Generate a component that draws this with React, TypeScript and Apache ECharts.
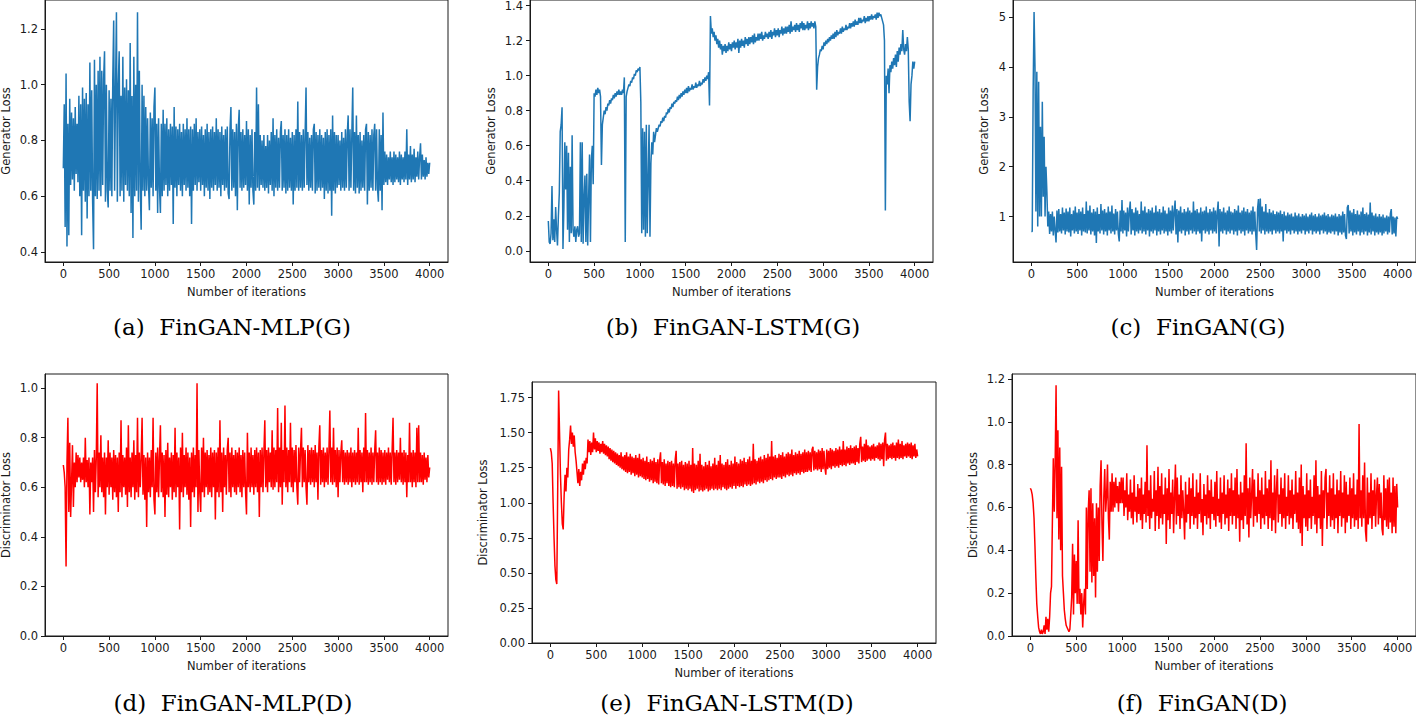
import React, { useEffect, useRef } from "react";
import * as echarts from "echarts";

// iteration spacing between consecutive recorded loss values
const STEP = 10;

// (a) FinGAN-MLP generator loss (one row = 100 iterations)
const mlpG = [
  0.70, 0.93, 0.49, 1.04, 0.42, 0.86, 0.46, 0.95, 0.64, 0.90,
  0.66, 0.88, 0.62, 0.92, 0.68, 0.86, 0.65, 0.96, 0.60, 0.93,
  0.46, 0.99, 0.62, 0.95, 0.58, 0.97, 0.52, 0.93, 0.60, 1.08,
  0.62, 0.98, 0.58, 0.41, 1.09, 0.60, 1.00, 0.59, 1.05, 0.62,
  1.10, 0.60, 1.05, 0.64, 1.02, 1.12, 0.58, 1.00, 0.62, 0.56,
  0.98, 0.62, 0.95, 0.60, 1.02, 1.23, 0.62, 0.98, 1.26, 0.58,
  1.00, 1.12, 0.60, 0.96, 0.62, 1.10, 0.58, 0.99, 0.64, 1.02,
  0.62, 0.98, 0.60, 1.15, 0.54, 0.96, 0.45, 1.10, 0.60, 1.00,
  0.62, 1.26, 0.58, 1.05, 0.64, 0.48, 1.00, 0.62, 0.96, 0.60,
  0.92, 0.62, 0.88, 0.64, 0.55, 0.90, 0.63, 0.88, 0.60, 0.92,
  0.99, 0.62, 0.86, 0.54, 0.88, 0.63, 0.54, 0.86, 0.60, 0.91,
  0.62, 0.86, 0.64, 0.88, 0.60, 0.84, 0.62, 0.86, 0.64, 0.85,
  0.50, 0.92, 0.63, 0.85, 0.60, 0.84, 0.64, 0.86, 0.62, 0.83,
  0.60, 0.86, 0.64, 0.84, 0.62, 0.88, 0.63, 0.84, 0.60, 0.85,
  0.50, 0.84, 0.62, 0.86, 0.64, 0.88, 0.62, 0.83, 0.65, 0.84,
  0.62, 0.85, 0.64, 0.82, 0.60, 0.84, 0.63, 0.86, 0.62, 0.83,
  0.59, 0.84, 0.63, 0.85, 0.62, 0.83, 0.64, 0.88, 0.62, 0.84,
  0.63, 0.83, 0.60, 0.85, 0.64, 0.82, 0.62, 0.84, 0.63, 0.85,
  0.61, 0.59, 0.84, 0.92, 0.62, 0.84, 0.63, 0.83, 0.60, 0.86,
  0.55, 0.84, 0.91, 0.63, 0.83, 0.62, 0.84, 0.63, 0.82, 0.64,
  0.87, 0.62, 0.84, 0.57, 0.82, 0.63, 0.84, 0.62, 0.57, 0.83,
  0.62, 0.99, 0.63, 0.93, 0.62, 0.82, 0.64, 0.80, 0.63, 0.82,
  0.62, 0.78, 0.63, 0.82, 0.61, 0.80, 0.64, 0.83, 0.62, 0.88,
  0.60, 0.82, 0.63, 0.84, 0.62, 0.81, 0.63, 0.83, 0.87, 0.62,
  0.82, 0.63, 0.84, 0.61, 0.82, 0.62, 0.84, 0.63, 0.81, 0.62,
  0.83, 0.57, 0.82, 0.62, 0.84, 0.63, 0.94, 0.62, 0.83, 0.63,
  0.82, 0.62, 0.84, 0.63, 0.82, 0.99, 0.64, 0.83, 0.62, 0.81,
  0.63, 0.82, 0.62, 0.84, 0.86, 0.61, 0.83, 0.62, 0.82, 0.63,
  0.84, 0.62, 0.82, 0.63, 0.81, 0.59, 0.83, 0.62, 0.84, 0.61,
  0.82, 0.62, 0.84, 0.53, 0.89, 0.62, 0.83, 0.61, 0.82, 0.63,
  0.82, 0.64, 0.80, 0.62, 0.83, 0.63, 0.81, 0.62, 0.84, 0.63,
  0.82, 0.89, 0.62, 0.84, 0.63, 0.82, 0.99, 0.62, 0.83, 0.61,
  0.89, 0.63, 0.82, 0.61, 0.83, 0.62, 0.80, 0.63, 0.82, 0.62,
  0.84, 0.86, 0.57, 0.83, 0.62, 0.82, 0.63, 0.84, 0.62, 0.82,
  0.86, 0.62, 0.84, 0.63, 0.58, 0.84, 0.62, 0.82, 0.55, 0.90,
  0.64, 0.76, 0.65, 0.75, 0.64, 0.74, 0.66, 0.76, 0.65, 0.74,
  0.64, 0.76, 0.65, 0.75, 0.66, 0.74, 0.65, 0.76, 0.64, 0.75,
  0.66, 0.74, 0.65, 0.76, 0.66, 0.84, 0.64, 0.75, 0.66, 0.78,
  0.65, 0.75, 0.66, 0.77, 0.65, 0.74, 0.67, 0.76, 0.66, 0.74,
  0.79, 0.66, 0.75, 0.67, 0.73, 0.66, 0.74, 0.67, 0.72, 0.68,
  0.72,
];

// (b) FinGAN-LSTM generator loss
const lstmG = [
  0.17, 0.05, 0.04, 0.10, 0.37, 0.06, 0.18, 0.05, 0.25, 0.12,
  0.03, 0.20, 0.33, 0.68, 0.72, 0.82, 0.01, 0.25, 0.62, 0.35,
  0.60, 0.12, 0.56, 0.05, 0.48, 0.10, 0.66, 0.12, 0.08, 0.14,
  0.05, 0.12, 0.14, 0.08, 0.10, 0.62, 0.05, 0.62, 0.04, 0.30,
  0.43, 0.05, 0.44, 0.03, 0.30, 0.55, 0.05, 0.52, 0.60, 0.38,
  0.90, 0.88, 0.92, 0.89, 0.93, 0.90, 0.92, 0.88, 0.49, 0.72,
  0.76, 0.80, 0.78, 0.82, 0.80, 0.84, 0.83, 0.86, 0.84, 0.87,
  0.86, 0.89, 0.87, 0.90, 0.88, 0.91, 0.89, 0.92, 0.89, 0.91,
  0.89, 0.92, 0.90, 0.99, 0.05, 0.88, 0.91, 0.93, 0.95, 0.94,
  0.97, 0.96, 0.99, 0.98, 1.01, 1.00, 1.03, 1.02, 1.04, 1.03,
  1.05, 0.85, 0.10, 0.70, 0.12, 0.68, 0.08, 0.72, 0.10, 0.40,
  0.72, 0.08, 0.50, 0.62, 0.55, 0.68, 0.62, 0.66, 0.70, 0.68,
  0.70, 0.72, 0.71, 0.74, 0.73, 0.76, 0.74, 0.77, 0.76, 0.79,
  0.78, 0.81, 0.79, 0.82, 0.81, 0.84, 0.82, 0.85, 0.84, 0.86,
  0.85, 0.88, 0.86, 0.89, 0.87, 0.90, 0.88, 0.91, 0.89, 0.92,
  0.90, 0.93, 0.90, 0.94, 0.91, 0.93, 0.92, 0.95, 0.92, 0.94,
  0.93, 0.96, 0.93, 0.95, 0.94, 0.97, 0.94, 0.96, 0.95, 0.98,
  0.96, 0.99, 0.97, 1.00, 0.98, 1.02, 0.83, 1.34, 1.24, 1.27,
  1.22, 1.25, 1.20, 1.23, 1.18, 1.21, 1.16, 1.20, 1.15, 1.18,
  1.12, 1.17, 1.14, 1.18, 1.13, 1.17, 1.14, 1.19, 1.15, 1.18,
  1.14, 1.19, 1.16, 1.20, 1.15, 1.19, 1.16, 1.21, 1.13, 1.20,
  1.16, 1.21, 1.17, 1.20, 1.16, 1.22, 1.18, 1.21, 1.17, 1.22,
  1.18, 1.22, 1.19, 1.23, 1.18, 1.24, 1.19, 1.22, 1.20, 1.24,
  1.20, 1.24, 1.21, 1.25, 1.20, 1.23, 1.21, 1.25, 1.22, 1.24,
  1.21, 1.25, 1.22, 1.26, 1.21, 1.25, 1.23, 1.27, 1.22, 1.26,
  1.23, 1.27, 1.22, 1.26, 1.24, 1.28, 1.23, 1.27, 1.24, 1.28,
  1.24, 1.28, 1.25, 1.29, 1.24, 1.31, 1.25, 1.28, 1.26, 1.29,
  1.25, 1.30, 1.26, 1.29, 1.25, 1.30, 1.27, 1.31, 1.26, 1.30,
  1.26, 1.29, 1.27, 1.31, 1.26, 1.30, 1.27, 1.31, 1.28, 1.30,
  1.27, 1.31, 1.28, 0.92, 1.05, 1.10, 1.12, 1.15, 1.14, 1.17,
  1.15, 1.19, 1.17, 1.20, 1.18, 1.21, 1.19, 1.22, 1.20, 1.23,
  1.21, 1.24, 1.21, 1.25, 1.22, 1.26, 1.23, 1.25, 1.24, 1.27,
  1.24, 1.28, 1.25, 1.27, 1.26, 1.29, 1.26, 1.28, 1.27, 1.30,
  1.27, 1.30, 1.28, 1.31, 1.28, 1.32, 1.29, 1.31, 1.29, 1.33,
  1.30, 1.33, 1.30, 1.32, 1.31, 1.34, 1.30, 1.33, 1.31, 1.34,
  1.31, 1.34, 1.32, 1.35, 1.32, 1.34, 1.33, 1.35, 1.32, 1.36,
  1.33, 1.36, 1.34, 1.35, 1.33, 1.31, 1.29, 1.20, 0.23, 1.00,
  0.95, 1.04, 0.90, 1.06, 1.02, 1.08, 1.04, 1.10, 1.06, 1.12,
  1.05, 1.14, 1.08, 1.16, 1.12, 1.18, 1.14, 1.26, 1.15, 1.12,
  1.18, 1.14, 1.22, 1.15, 0.85, 0.74, 0.95, 1.00, 1.08, 1.04,
  1.08,
];

// (c) FinGAN generator loss
const finG = [
  0.70, 0.70, 3.50, 5.10, 4.00, 1.10, 3.90, 0.80, 3.70, 1.00,
  2.80, 1.00, 3.30, 1.40, 2.60, 1.00, 2.00, 1.50, 0.80, 1.10,
  0.65, 1.05, 0.70, 1.10, 0.62, 1.00, 0.72, 0.48, 1.12, 0.68,
  1.15, 0.70, 1.05, 0.66, 1.18, 0.72, 1.08, 0.64, 1.16, 0.70,
  1.10, 0.68, 1.18, 0.60, 1.05, 0.72, 1.12, 0.66, 1.20, 0.70,
  1.08, 0.65, 1.15, 0.72, 1.10, 0.62, 1.18, 0.70, 1.05, 0.68,
  1.30, 0.66, 1.12, 0.72, 1.22, 0.64, 1.08, 0.70, 1.15, 0.62,
  1.10, 0.47, 1.18, 0.70, 1.05, 0.66, 1.25, 0.72, 1.12, 0.64,
  1.15, 0.70, 1.08, 0.62, 1.20, 0.72, 1.10, 0.66, 1.22, 0.70,
  1.06, 0.64, 1.15, 0.72, 1.10, 0.66, 0.50, 1.12, 0.70, 1.33,
  0.66, 1.12, 0.72, 1.08, 0.60, 1.18, 0.70, 1.10, 1.30, 0.64,
  1.15, 0.72, 1.08, 0.62, 1.18, 0.70, 1.12, 0.66, 1.05, 0.72,
  1.30, 0.66, 1.12, 0.70, 1.20, 0.64, 1.08, 0.72, 1.15, 0.60,
  1.12, 0.70, 1.18, 0.66, 1.08, 0.72, 1.22, 0.62, 1.10, 0.70,
  1.15, 0.64, 1.08, 0.72, 1.20, 0.66, 1.12, 0.70, 1.06, 0.62,
  1.18, 0.70, 1.12, 0.66, 1.22, 0.72, 1.10, 1.32, 0.64, 1.15,
  0.48, 1.12, 0.70, 1.20, 0.66, 1.08, 0.72, 1.15, 0.62, 1.10,
  0.70, 1.18, 0.64, 1.12, 0.72, 1.08, 0.66, 1.30, 0.70, 1.12,
  0.64, 1.15, 0.70, 1.08, 0.66, 1.18, 0.50, 1.10, 0.72, 1.12,
  0.66, 1.20, 0.70, 1.08, 0.64, 1.15, 0.72, 1.10, 0.66, 1.18,
  0.70, 1.12, 0.66, 1.08, 1.30, 0.40, 1.15, 0.70, 1.10, 0.66,
  1.18, 0.72, 1.08, 0.64, 1.12, 0.70, 1.20, 0.66, 1.10, 0.72,
  1.08, 0.64, 1.15, 0.70, 1.12, 0.62, 1.22, 0.72, 1.08, 0.66,
  1.12, 0.70, 1.18, 0.62, 1.10, 0.72, 1.15, 0.66, 1.08, 0.70,
  1.12, 0.64, 1.20, 0.70, 1.10, 0.66, 0.33, 1.15, 1.35, 0.70,
  1.36, 0.66, 1.20, 0.72, 1.10, 0.64, 1.25, 0.70, 1.08, 0.66,
  1.15, 0.70, 1.08, 0.64, 1.12, 0.72, 1.05, 0.66, 1.10, 0.70,
  1.08, 0.66, 1.12, 0.70, 1.05, 0.50, 1.10, 0.72, 1.02, 0.66,
  1.08, 0.70, 1.04, 0.64, 1.06, 0.72, 1.00, 0.66, 1.08, 0.70,
  1.02, 0.64, 1.06, 0.70, 1.00, 0.66, 1.05, 0.72, 1.02, 0.64,
  1.06, 0.70, 1.00, 0.66, 1.04, 0.72, 1.08, 0.64, 1.02, 0.70,
  1.05, 0.66, 1.00, 0.70, 1.06, 0.64, 1.02, 0.72, 1.04, 0.66,
  1.08, 0.70, 1.02, 0.64, 1.05, 0.68, 1.00, 0.66, 1.04, 0.70,
  1.02, 0.64, 1.06, 0.70, 1.00, 0.62, 1.05, 0.68, 1.02, 0.64,
  1.10, 0.68, 1.05, 0.62, 0.55, 1.18, 1.23, 0.66, 1.12, 0.70,
  1.08, 0.62, 1.15, 0.68, 1.05, 0.64, 1.12, 0.70, 1.04, 0.62,
  1.10, 0.68, 1.18, 0.64, 1.05, 0.70, 1.08, 0.62, 1.04, 0.68,
  1.28, 0.64, 1.08, 0.70, 1.02, 0.62, 1.06, 0.68, 1.00, 0.64,
  1.05, 0.68, 1.00, 0.62, 1.04, 0.66, 0.98, 0.70, 1.02, 0.64,
  1.00, 0.68, 1.06, 1.15, 0.64, 1.00, 0.66, 0.98, 0.60, 1.00,
  0.95,
];

// (d) FinGAN-MLP discriminator loss
const mlpD = [
  0.69, 0.66, 0.60, 0.28, 0.70, 0.88, 0.50, 0.78, 0.48, 0.62,
  0.77, 0.52, 0.70, 0.60, 0.74, 0.62, 0.73, 0.64, 0.72, 0.62,
  0.70, 0.63, 0.72, 0.60, 0.80, 0.62, 0.71, 0.60, 0.72, 0.49,
  0.70, 0.62, 0.72, 0.50, 0.75, 0.58, 0.72, 1.02, 0.56, 0.74,
  0.60, 0.81, 0.58, 0.72, 0.56, 0.74, 0.49, 0.72, 0.60, 0.79,
  0.57, 0.74, 0.60, 0.72, 0.55, 0.75, 0.58, 0.73, 0.56, 0.72,
  0.50, 0.74, 0.58, 0.87, 0.56, 0.73, 0.60, 0.72, 0.57, 0.76,
  0.52, 0.85, 0.58, 0.72, 0.56, 0.74, 0.60, 0.79, 0.55, 0.73,
  0.58, 0.88, 0.56, 0.74, 0.60, 0.72, 0.88, 0.57, 0.73, 0.55,
  0.72, 0.44, 0.74, 0.58, 0.72, 0.56, 0.75, 0.60, 0.88, 0.55,
  0.49, 0.74, 0.58, 0.76, 0.56, 0.72, 0.85, 0.58, 0.74, 0.56,
  0.73, 0.48, 0.75, 0.57, 0.78, 0.56, 0.72, 0.60, 0.74, 0.55,
  0.73, 0.58, 0.84, 0.56, 0.74, 0.60, 0.72, 0.43, 0.76, 0.58,
  0.82, 0.56, 0.73, 0.60, 0.76, 0.57, 0.74, 0.55, 0.72, 0.44,
  0.74, 0.58, 0.76, 0.56, 0.73, 0.60, 1.02, 0.50, 0.75, 0.58,
  0.50, 0.76, 0.58, 0.80, 0.56, 0.74, 0.60, 0.75, 0.57, 0.73,
  0.58, 0.76, 0.56, 0.74, 0.60, 0.75, 0.47, 0.74, 0.58, 0.76,
  0.56, 0.87, 0.58, 0.74, 0.50, 0.76, 0.60, 0.73, 0.57, 0.75,
  0.80, 0.58, 0.74, 0.56, 0.76, 0.60, 0.73, 0.58, 0.75, 0.57,
  0.74, 0.60, 0.76, 0.58, 0.73, 0.56, 0.75, 0.60, 0.74, 0.58,
  0.49, 0.82, 0.60, 0.74, 0.58, 0.76, 0.60, 0.73, 0.57, 0.75,
  0.60, 0.76, 0.58, 0.74, 0.48, 0.75, 0.60, 0.76, 0.58, 0.74,
  0.87, 0.60, 0.75, 0.58, 0.76, 0.62, 0.74, 0.60, 0.83, 0.59,
  0.76, 0.60, 0.75, 0.62, 0.92, 0.58, 0.76, 0.60, 0.86, 0.53,
  0.75, 0.62, 0.93, 0.60, 0.76, 0.58, 0.75, 0.62, 0.86, 0.60,
  0.76, 0.58, 0.75, 0.62, 0.77, 0.60, 0.53, 0.76, 0.62, 0.75,
  0.84, 0.60, 0.76, 0.62, 0.75, 0.60, 0.53, 0.77, 0.62, 0.75,
  0.61, 0.76, 0.62, 0.75, 0.60, 0.77, 0.62, 0.74, 0.55, 0.76,
  0.85, 0.61, 0.75, 0.62, 0.76, 0.60, 0.74, 0.62, 0.76, 0.61,
  0.75, 0.91, 0.62, 0.76, 0.61, 0.84, 0.62, 0.75, 0.60, 0.76,
  0.56, 0.75, 0.62, 0.74, 0.79, 0.62, 0.75, 0.61, 0.74, 0.62,
  0.75, 0.61, 0.74, 0.62, 0.76, 0.60, 0.74, 0.62, 0.75, 0.61,
  0.74, 0.62, 0.84, 0.61, 0.75, 0.62, 0.74, 0.58, 0.76, 0.62,
  0.90, 0.62, 0.75, 0.61, 0.74, 0.62, 0.76, 0.61, 0.74, 0.62,
  0.75, 0.83, 0.62, 0.74, 0.61, 0.76, 0.62, 0.75, 0.61, 0.74,
  0.62, 0.75, 0.61, 0.74, 0.63, 0.76, 0.62, 0.74, 0.61, 0.75,
  0.88, 0.62, 0.74, 0.61, 0.75, 0.62, 0.74, 0.63, 0.80, 0.62,
  0.74, 0.61, 0.75, 0.62, 0.74, 0.56, 0.73, 0.62, 0.86, 0.62,
  0.74, 0.60, 0.75, 0.62, 0.74, 0.60, 0.84, 0.62, 0.85, 0.62,
  0.74, 0.62, 0.73, 0.61, 0.74, 0.63, 0.72, 0.62, 0.73, 0.64,
  0.68,
];

// (e) FinGAN-LSTM discriminator loss
const lstmD = [
  1.39, 1.36, 1.28, 1.00, 0.75, 0.55, 0.45, 0.42, 1.10, 1.80,
  1.50, 1.20, 1.00, 0.85, 0.81, 1.05, 1.20, 1.08, 1.25, 1.18,
  1.38, 1.45, 1.55, 1.42, 1.50, 1.40, 1.48, 1.36, 1.30, 1.22,
  1.14, 1.24, 1.12, 1.22, 1.16, 1.28, 1.20, 1.30, 1.24, 1.32,
  1.28, 1.45, 1.36, 1.44, 1.34, 1.43, 1.36, 1.50, 1.38, 1.46,
  1.36, 1.44, 1.37, 1.43, 1.35, 1.42, 1.36, 1.44, 1.35, 1.42,
  1.34, 1.41, 1.33, 1.40, 1.31, 1.39, 1.30, 1.38, 1.29, 1.37,
  1.28, 1.36, 1.27, 1.35, 1.26, 1.34, 1.25, 1.36, 1.24, 1.33,
  1.23, 1.34, 1.22, 1.36, 1.21, 1.33, 1.22, 1.35, 1.20, 1.33,
  1.21, 1.32, 1.19, 1.34, 1.20, 1.32, 1.18, 1.35, 1.19, 1.31,
  1.18, 1.32, 1.17, 1.30, 1.16, 1.33, 1.17, 1.29, 1.15, 1.31,
  1.16, 1.30, 1.14, 1.32, 1.15, 1.29, 1.14, 1.31, 1.13, 1.30,
  1.36, 1.14, 1.29, 1.13, 1.31, 1.12, 1.28, 1.14, 1.30, 1.12,
  1.29, 1.11, 1.30, 1.12, 1.28, 1.11, 1.31, 1.37, 1.10, 1.28,
  1.11, 1.29, 1.10, 1.30, 1.11, 1.27, 1.09, 1.29, 1.10, 1.28,
  1.09, 1.30, 1.10, 1.27, 1.08, 1.39, 1.07, 1.28, 1.09, 1.27,
  1.10, 1.30, 1.08, 1.35, 1.09, 1.27, 1.08, 1.26, 1.09, 1.29,
  1.10, 1.27, 1.08, 1.30, 1.09, 1.26, 1.10, 1.28, 1.09, 1.32,
  1.10, 1.27, 1.09, 1.30, 1.10, 1.34, 1.09, 1.28, 1.11, 1.27,
  1.10, 1.29, 1.09, 1.31, 1.10, 1.27, 1.11, 1.30, 1.10, 1.28,
  1.12, 1.33, 1.10, 1.29, 1.12, 1.28, 1.11, 1.31, 1.12, 1.30,
  1.11, 1.32, 1.13, 1.29, 1.12, 1.31, 1.13, 1.33, 1.12, 1.30,
  1.13, 1.42, 1.14, 1.31, 1.13, 1.30, 1.15, 1.32, 1.14, 1.33,
  1.15, 1.31, 1.14, 1.34, 1.16, 1.32, 1.15, 1.35, 1.16, 1.33,
  1.17, 1.44, 1.16, 1.33, 1.18, 1.34, 1.17, 1.32, 1.18, 1.35,
  1.18, 1.34, 1.17, 1.36, 1.19, 1.33, 1.18, 1.35, 1.20, 1.36,
  1.19, 1.35, 1.20, 1.38, 1.19, 1.34, 1.21, 1.36, 1.20, 1.35,
  1.21, 1.37, 1.20, 1.35, 1.22, 1.36, 1.21, 1.38, 1.22, 1.36,
  1.22, 1.37, 1.23, 1.36, 1.22, 1.38, 1.40, 1.23, 1.37, 1.24,
  1.36, 1.23, 1.38, 1.24, 1.37, 1.22, 1.39, 1.24, 1.37, 1.25,
  1.20, 1.38, 1.24, 1.37, 1.25, 1.39, 1.24, 1.38, 1.26, 1.37,
  1.25, 1.39, 1.26, 1.38, 1.25, 1.40, 1.27, 1.38, 1.26, 1.44,
  1.27, 1.38, 1.26, 1.40, 1.28, 1.39, 1.27, 1.41, 1.28, 1.39,
  1.28, 1.40, 1.27, 1.41, 1.29, 1.39, 1.28, 1.42, 1.47, 1.29,
  1.40, 1.30, 1.42, 1.29, 1.45, 1.30, 1.41, 1.31, 1.40, 1.30,
  1.41, 1.31, 1.42, 1.30, 1.40, 1.32, 1.41, 1.31, 1.43, 1.30,
  1.42, 1.31, 1.43, 1.26, 1.45, 1.50, 1.30, 1.42, 1.31, 1.41,
  1.32, 1.42, 1.31, 1.43, 1.32, 1.41, 1.30, 1.43, 1.32, 1.45,
  1.31, 1.42, 1.32, 1.44, 1.31, 1.41, 1.33, 1.42, 1.32, 1.43,
  1.33, 1.42, 1.32, 1.43, 1.31, 1.41, 1.33, 1.42, 1.32, 1.38,
  1.33,
];

// (f) FinGAN discriminator loss
const finD = [
  0.69, 0.68, 0.66, 0.62, 0.55, 0.42, 0.27, 0.15, 0.09, 0.04,
  0.02, 0.01, 0.03, 0.01, 0.02, 0.05, 0.01, 0.09, 0.03, 0.08,
  0.02, 0.09, 0.20, 0.23, 0.54, 0.83, 0.58, 0.80, 1.17, 0.55,
  0.96, 0.45, 0.88, 0.40, 0.79, 0.28, 0.20, 0.12, 0.08, 0.05,
  0.04, 0.03, 0.02, 0.03, 0.10, 0.18, 0.43, 0.10, 0.38, 0.20,
  0.35, 0.15, 0.54, 0.15, 0.22, 0.10, 0.20, 0.04, 0.15, 0.22,
  0.10, 0.60, 0.22, 0.58, 0.68, 0.30, 0.69, 0.25, 0.62, 0.28,
  0.55, 0.18, 0.62, 0.30, 0.60, 0.35, 0.70, 0.82, 0.52, 0.35,
  0.65, 0.78, 0.58, 0.65, 0.80, 0.55, 0.45, 0.72, 0.58, 0.76,
  0.58, 0.72, 0.60, 0.74, 0.62, 0.70, 0.58, 0.72, 0.62, 0.74,
  0.62, 0.74, 0.56, 0.68, 0.60, 0.76, 0.54, 0.66, 0.58, 0.73,
  0.55, 0.67, 0.52, 0.75, 0.58, 0.65, 0.53, 0.71, 0.57, 0.69,
  0.54, 0.74, 0.50, 0.66, 0.57, 0.72, 0.53, 0.89, 0.56, 0.68,
  0.50, 0.75, 0.55, 0.64, 0.58, 0.77, 0.49, 0.68, 0.56, 0.79,
  0.50, 0.70, 0.55, 0.76, 0.52, 0.66, 0.57, 0.74, 0.43, 0.69,
  0.54, 0.78, 0.50, 0.67, 0.57, 0.73, 0.48, 0.65, 0.80, 0.52,
  0.74, 0.56, 0.66, 0.50, 0.75, 0.55, 0.68, 0.58, 0.45, 0.72,
  0.53, 0.66, 0.57, 0.74, 0.50, 0.69, 0.56, 0.76, 0.52, 0.65,
  0.55, 0.73, 0.50, 0.67, 0.57, 0.76, 0.53, 0.64, 0.47, 0.71,
  0.56, 0.66, 0.52, 0.75, 0.55, 0.68, 0.50, 0.73, 0.57, 0.65,
  0.54, 0.72, 0.51, 0.77, 0.56, 0.64, 0.53, 0.74, 0.50, 0.67,
  0.57, 0.75, 0.52, 0.66, 0.55, 0.73, 0.49, 0.69, 0.56, 0.76,
  0.52, 0.68, 0.56, 0.74, 0.50, 0.78, 0.55, 0.66, 0.44, 0.72,
  0.54, 0.67, 0.50, 0.75, 0.56, 0.90, 0.52, 0.69, 0.46, 0.74,
  0.55, 0.66, 0.78, 0.51, 0.73, 0.56, 0.65, 0.53, 0.76, 0.57,
  0.68, 0.50, 0.74, 0.55, 0.66, 0.52, 0.77, 0.56, 0.69, 0.50,
  0.73, 0.55, 0.82, 0.49, 0.67, 0.54, 0.75, 0.48, 0.68, 0.78,
  0.53, 0.66, 0.57, 0.74, 0.51, 0.69, 0.55, 0.76, 0.50, 0.65,
  0.56, 0.75, 0.52, 0.68, 0.55, 0.73, 0.50, 0.66, 0.57, 0.77,
  0.53, 0.67, 0.50, 0.74, 0.48, 0.80, 0.42, 0.70, 0.55, 0.66,
  0.51, 0.76, 0.49, 0.68, 0.55, 0.73, 0.50, 0.65, 0.56, 0.75,
  0.52, 0.82, 0.48, 0.70, 0.55, 0.66, 0.50, 0.77, 0.42, 0.68,
  0.55, 0.74, 0.78, 0.50, 0.67, 0.56, 0.75, 0.51, 0.69, 0.54,
  0.76, 0.50, 0.66, 0.55, 0.73, 0.48, 0.68, 0.56, 0.77, 0.51,
  0.67, 0.55, 0.75, 0.48, 0.72, 0.53, 0.66, 0.56, 0.74, 0.50,
  0.69, 0.55, 0.76, 0.51, 0.66, 0.54, 0.73, 0.50, 0.99, 0.55,
  0.68, 0.51, 0.75, 0.55, 0.81, 0.49, 0.44, 0.74, 0.52, 0.67,
  0.55, 0.76, 0.50, 0.68, 0.56, 0.73, 0.51, 0.66, 0.74, 0.52,
  0.71, 0.55, 0.67, 0.50, 0.47, 0.75, 0.54, 0.69, 0.51, 0.73,
  0.50, 0.74, 0.53, 0.67, 0.48, 0.74, 0.51, 0.70, 0.48, 0.71,
  0.60,
];

const xTicks = [0, 500, 1000, 1500, 2000, 2500, 3000, 3500, 4000];
const yTicksA = [0.4, 0.6, 0.8, 1.0, 1.2];
const yTicksB = [0.0, 0.2, 0.4, 0.6, 0.8, 1.0, 1.2, 1.4];
const yTicksC = [1, 2, 3, 4, 5];
const yTicksD = [0.0, 0.2, 0.4, 0.6, 0.8, 1.0];
const yTicksE = [0.0, 0.25, 0.5, 0.75, 1.0, 1.25, 1.5, 1.75];
const yTicksF = [0.0, 0.2, 0.4, 0.6, 0.8, 1.0, 1.2];

const captions = [
  "(a)  FinGAN-MLP(G)",
  "(b)  FinGAN-LSTM(G)",
  "(c)  FinGAN(G)",
  "(d)  FinGAN-MLP(D)",
  "(e)  FinGAN-LSTM(D)",
  "(f)  FinGAN(D)",
];
const yNames = [
  "Generator Loss",
  "Generator Loss",
  "Generator Loss",
  "Discriminator Loss",
  "Discriminator Loss",
  "Discriminator Loss",
];

const BLUE = "#1f77b4";
const RED = "#ff0000";
const INK = "#1a1a1a";
const SANS = "DejaVu Sans";

type Panel = {
  grid: { left: number; top: number; width: number; height: number };
  values: number[];
  color: string;
  yMin: number;
  yMax: number;
  yTicks: number[];
  digits: number;
  yNameX: number;
  capX: number;
  capY: number;
};

const panels: Panel[] = [
  { grid: { left: 45, top: 0, width: 403, height: 262 }, values: mlpG, color: BLUE, yMin: 0.364, yMax: 1.304, yTicks: yTicksA, digits: 1, yNameX: 6, capX: 232, capY: 327 },
  { grid: { left: 530, top: 0, width: 403, height: 262 }, values: lstmG, color: BLUE, yMin: -0.064, yMax: 1.432, yTicks: yTicksB, digits: 1, yNameX: 491, capX: 733, capY: 327 },
  { grid: { left: 1013, top: 0, width: 403, height: 262 }, values: finG, color: BLUE, yMin: 0.09, yMax: 5.34, yTicks: yTicksC, digits: 0, yNameX: 984, capX: 1198, capY: 327 },
  { grid: { left: 45, top: 374, width: 403, height: 262 }, values: mlpD, color: RED, yMin: 0, yMax: 1.057, yTicks: yTicksD, digits: 1, yNameX: 6, capX: 233, capY: 703 },
  { grid: { left: 532, top: 382, width: 404, height: 261 }, values: lstmD, color: RED, yMin: 0, yMax: 1.861, yTicks: yTicksE, digits: 2, yNameX: 483, capX: 727, capY: 703 },
  { grid: { left: 1012, top: 374, width: 404, height: 262 }, values: finD, color: RED, yMin: 0, yMax: 1.223, yTicks: yTicksF, digits: 1, yNameX: 973, capX: 1202, capY: 703 },
];

export default function App() {
  const ref = useRef<HTMLDivElement>(null);

  useEffect(() => {
    if (!ref.current) return;
    const chart = echarts.init(ref.current, null, { renderer: "svg" });

    const grids = panels.map((p) => ({
      ...p.grid,
      containLabel: false,
      outerBoundsMode: "none",
      show: true,
      borderColor: INK,
      borderWidth: 1,
      backgroundColor: "#fff",
    }));

    const xAxes = panels.map((p, i) => ({
      type: "value",
      gridIndex: i,
      min: -200,
      max: 4200,
      name: "Number of iterations",
      nameLocation: "middle",
      nameGap: 24,
      nameTextStyle: { fontFamily: SANS, fontSize: 11.5, color: INK },
      axisLine: { show: true, onZero: false, lineStyle: { color: INK, width: 1 } },
      axisTick: { show: true, length: 4, customValues: xTicks, lineStyle: { color: INK } },
      axisLabel: {
        customValues: xTicks,
        fontFamily: SANS,
        fontSize: 11.5,
        color: INK,
        margin: 6,
        formatter: (v: number) => String(Math.round(v)),
      },
      splitLine: { show: false },
    }));

    const yAxes = panels.map((p, i) => ({
      type: "value",
      gridIndex: i,
      min: p.yMin,
      max: p.yMax,
      axisLine: { show: true, onZero: false, lineStyle: { color: INK, width: 1 } },
      axisTick: { show: true, length: 4, customValues: p.yTicks, lineStyle: { color: INK } },
      axisLabel: {
        customValues: p.yTicks,
        fontFamily: SANS,
        fontSize: 11.5,
        color: INK,
        margin: 7,
        formatter: (v: number) => v.toFixed(p.digits),
      },
      splitLine: { show: false },
    }));

    const series = panels.map((p, i) => ({
      type: "line",
      xAxisIndex: i,
      yAxisIndex: i,
      data: p.values.map((v, k) => [k * STEP, v]),
      showSymbol: false,
      symbol: "none",
      clip: true,
      silent: true,
      lineStyle: { color: p.color, width: 1.5 },
      itemStyle: { color: p.color },
    }));

    const graphics: any[] = [];
    panels.forEach((p, i) => {
      graphics.push({
        type: "text",
        x: p.yNameX,
        y: p.grid.top + p.grid.height / 2,
        rotation: Math.PI / 2,
        style: {
          text: yNames[i],
          fill: INK,
          font: `11.5px "${SANS}"`,
          textAlign: "center",
          textVerticalAlign: "middle",
          align: "center",
          verticalAlign: "middle",
        },
      });
      graphics.push({
        type: "text",
        x: p.capX,
        y: p.capY,
        style: {
          text: captions[i],
          fill: "#000",
          font: `23px "DejaVu Serif"`,
          textAlign: "center",
          textVerticalAlign: "middle",
          align: "center",
          verticalAlign: "middle",
        },
      });
    });

    chart.setOption({
      animation: false,
      backgroundColor: "#ffffff",
      grid: grids,
      xAxis: xAxes,
      yAxis: yAxes,
      series,
      graphic: graphics,
    } as any);

    return () => {
      chart.dispose();
    };
  }, []);

  return (
    <div
      ref={ref}
      style={{ position: "absolute", left: 0, top: 0, width: 1416, height: 719, background: "#fff" }}
    />
  );
}
